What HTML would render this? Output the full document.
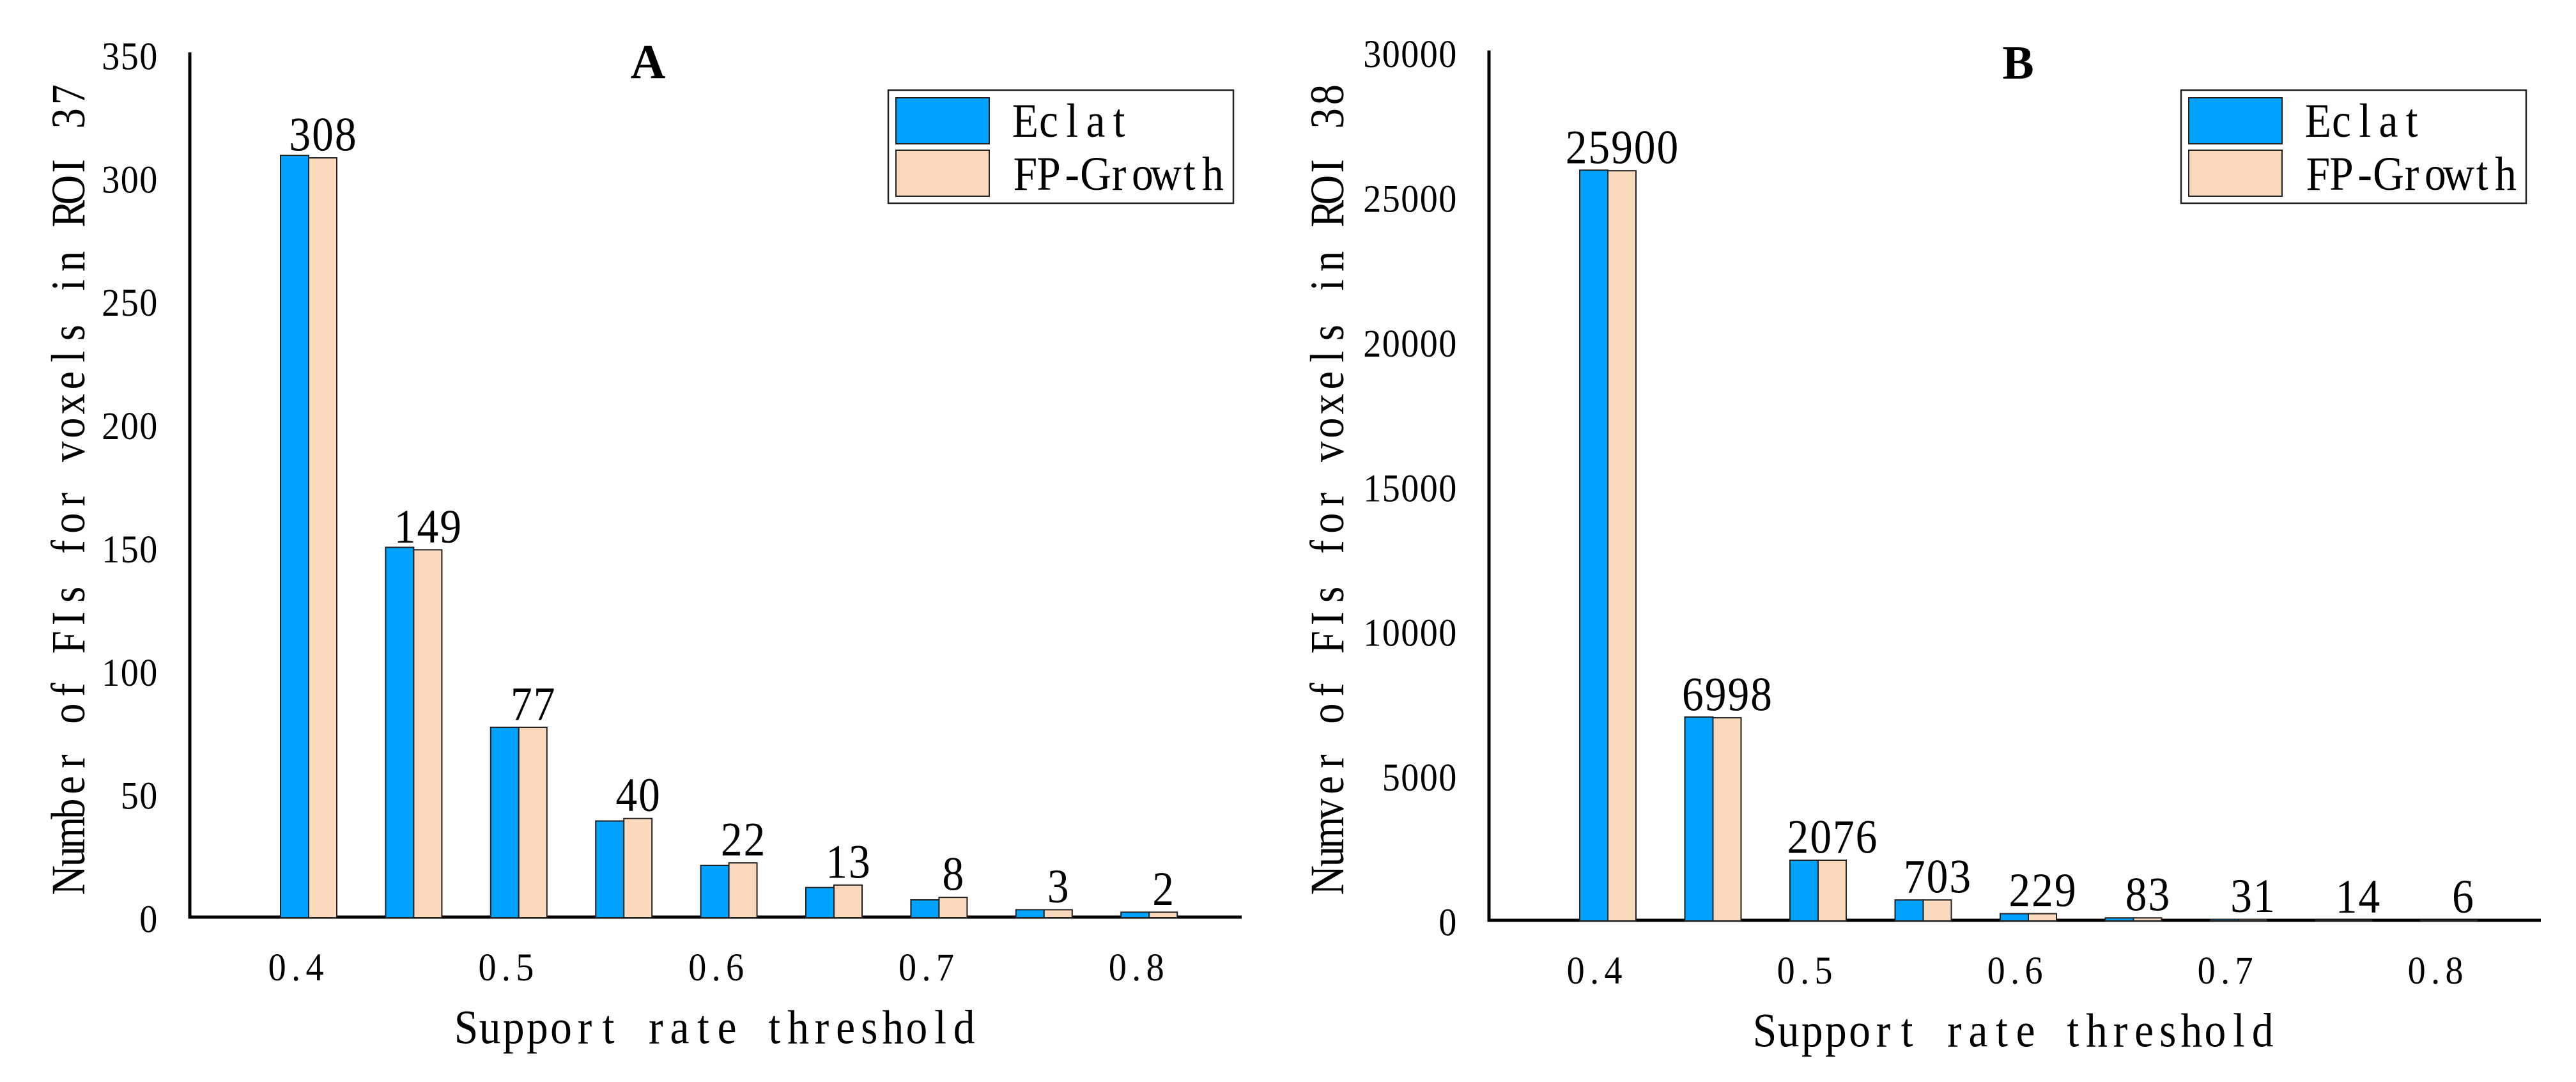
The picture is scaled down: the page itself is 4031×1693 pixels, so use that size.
<!DOCTYPE html>
<html lang="en">
<head>
<meta charset="utf-8">
<title>Frequent itemsets by support rate threshold</title>
<style>
html,body{margin:0;padding:0;background:#fff;}
svg{display:block;}
text{font-family:"Liberation Serif","Noto Serif CJK SC",serif;fill:#000;font-kerning:none;}
</style>
</head>
<body>
<svg id="figure" xmlns="http://www.w3.org/2000/svg" width="4031" height="1693" viewBox="0 0 4031 1693">
  <rect x="0" y="0" width="4031" height="1693" fill="#fff"/>

  <g id="chart-a">
    <g id="marks-a"></g>
    <text class="bold-title" x="1014" y="122" text-anchor="middle" font-size="76" font-weight="bold">A</text>
    <text class="mono" data-x="132" data-y="1396" data-rot="-90" data-cell="37.25" data-size="75" data-sx="0.86">Number of FIs for voxels in ROI 37</text>
    <text class="mono" data-x="711" data-y="1632.5" data-rot="0" data-cell="37.1" data-size="75" data-sx="0.9">Support rate threshold</text>
    <g>
      <rect x="1390" y="141" width="540" height="177" fill="#fff" stroke="#222" stroke-width="2.5"/>
      <rect x="1402" y="153" width="146" height="72" fill="#00A2FF" stroke="#222" stroke-width="2"/>
      <rect x="1402" y="235" width="146" height="72" fill="#FAD9BD" stroke="#222" stroke-width="2"/>
      <text class="mono" data-x="1586" data-y="214" data-rot="0" data-cell="36.7" data-size="75" data-sx="0.9">Eclat</text>
      <text class="mono" data-x="1586" data-y="297" data-rot="0" data-cell="36.7" data-size="75" data-sx="0.9">FP-Growth</text>
    </g>
  </g>

  <g id="chart-b">
    <g id="marks-b"></g>
    <text class="bold-title" x="3158" y="123" text-anchor="middle" font-size="74" font-weight="bold">B</text>
    <text class="mono" data-x="2102" data-y="1396" data-rot="-90" data-cell="37.25" data-size="75" data-sx="0.86">Numver of FIs for voxels in ROI 38</text>
    <text class="mono" data-x="2743" data-y="1637.5" data-rot="0" data-cell="37.1" data-size="75" data-sx="0.9">Support rate threshold</text>
    <g>
      <rect x="3413" y="141" width="540" height="177" fill="#fff" stroke="#222" stroke-width="2.5"/>
      <rect x="3425" y="153" width="146" height="72" fill="#00A2FF" stroke="#222" stroke-width="2"/>
      <rect x="3425" y="235" width="146" height="72" fill="#FAD9BD" stroke="#222" stroke-width="2"/>
      <text class="mono" data-x="3609" data-y="214" data-rot="0" data-cell="36.7" data-size="75" data-sx="0.9">Eclat</text>
      <text class="mono" data-x="3609" data-y="297" data-rot="0" data-cell="36.7" data-size="75" data-sx="0.9">FP-Growth</text>
    </g>
  </g>
</svg>

<script>
const xTickLabels = ["0.4", "0.5", "0.6", "0.7", "0.8"];

const yTicksA = [0, 50, 100, 150, 200, 250, 300, 350];
const eclatA = [309, 150, 77, 39, 21, 12, 7, 3, 2];
const fpGrowthA = [308, 149, 77, 40, 22, 13, 8, 3, 2];

const yTicksB = [0, 5000, 10000, 15000, 20000, 25000, 30000];
const eclatB = [25920, 7025, 2076, 703, 229, 83, 31, 14, 6];
const fpGrowthB = [25900, 6998, 2076, 703, 229, 83, 31, 14, 6];

const SVGNS = "http://www.w3.org/2000/svg";
const measureCtx = document.createElement("canvas").getContext("2d");

function placeMono(el, px, py, rot, cell, size, sx) {
  const str = el.textContent;
  measureCtx.font = size + 'px "Liberation Serif"';
  const xs = [];
  for (let i = 0; i < str.length; i++) {
    const w = measureCtx.measureText(str[i]).width;
    xs.push(((i + 0.5) * cell) / sx - w / 2);
  }
  el.setAttribute("x", xs.map(function (v) { return v.toFixed(2); }).join(" "));
  el.setAttribute("y", "0");
  el.setAttribute("font-size", size);
  el.setAttribute("transform", "translate(" + px + "," + py + ") rotate(" + rot + ") scale(" + sx + ",1)");
}

document.querySelectorAll("text.mono").forEach(function (el) {
  placeMono(el, +el.dataset.x, +el.dataset.y, +el.dataset.rot, +el.dataset.cell, +el.dataset.size, +el.dataset.sx);
});

function svgRect(parent, x, y, w, h, fill, stroke, sw) {
  const r = document.createElementNS(SVGNS, "rect");
  r.setAttribute("x", x);
  r.setAttribute("y", y);
  r.setAttribute("width", w);
  r.setAttribute("height", h);
  r.setAttribute("fill", fill);
  if (stroke) {
    r.setAttribute("stroke", stroke);
    r.setAttribute("stroke-width", sw);
  }
  parent.appendChild(r);
  return r;
}

function svgText(parent, str) {
  const t = document.createElementNS(SVGNS, "text");
  t.textContent = str;
  parent.appendChild(t);
  return t;
}

function drawChart(opts) {
  const g = document.getElementById(opts.target);
  const yScale = function (v) { return opts.y0 - (v / opts.yMax) * (opts.y0 - opts.yTop); };
  const groupMid = function (i) { return opts.firstMid + i * opts.groupStep; };
  const barW = 44;

  const yAxis = svgRect(g, opts.axisX - 2.5, opts.axisTop, 5, opts.y0 - opts.axisTop + 2.5, "#000");
  
  

  const xAxis = svgRect(g, opts.axisX - 2.5, opts.y0 - 2.5, opts.axisEnd - opts.axisX + 2.5, 5, "#000");
  
  

  opts.yTicks.forEach(function (v) {
    const s = String(v);
    const t = svgText(g, s);
    
    
    placeMono(t, opts.tickRight - s.length * 29.5, yScale(v) + 23.5, 0, 29.5, 61, 0.92);
  });

  opts.xLabels.forEach(function (s, i) {
    const t = svgText(g, s);
    
    
    placeMono(t, groupMid(i * 2) - opts.xLabelShift - 44, opts.xLabelY, 0, 29.4, 61, 0.92);
  });

  opts.eclat.forEach(function (v, i) {
    const mid = groupMid(i);
    const top = yScale(v);
    const bar = svgRect(g, mid - barW, top, barW, opts.y0 + 1 - top, "#00A2FF", "#222", 2);
    
    
  });

  opts.fp.forEach(function (v, i) {
    const mid = groupMid(i);
    const top = yScale(v);
    const bar = svgRect(g, mid, top, barW, opts.y0 + 1 - top, "#FAD9BD", "#222", 2);
    
    

    const s = String(v);
    const t = svgText(g, s);
    
    
    placeMono(t, mid + barW / 2 - (s.length * 35.7) / 2, top - 11.5, 0, 35.7, 75, 0.9);
  });
}

drawChart({
  id: "a", target: "marks-a",
  yTicks: yTicksA, xLabels: xTickLabels, eclat: eclatA, fp: fpGrowthA,
  yMax: 350, y0: 1435, yTop: 85, axisX: 297, axisTop: 82, axisEnd: 1943,
  firstMid: 483, groupStep: 164.4, tickRight: 247, xLabelShift: 20, xLabelY: 1534
});

drawChart({
  id: "b", target: "marks-b",
  yTicks: yTicksB, xLabels: xTickLabels, eclat: eclatB, fp: fpGrowthB,
  yMax: 30000, y0: 1440, yTop: 81.5, axisX: 2330, axisTop: 79, axisEnd: 3976,
  firstMid: 2516, groupStep: 164.5, tickRight: 2280, xLabelShift: 21, xLabelY: 1539
});
</script>
</body>
</html>
